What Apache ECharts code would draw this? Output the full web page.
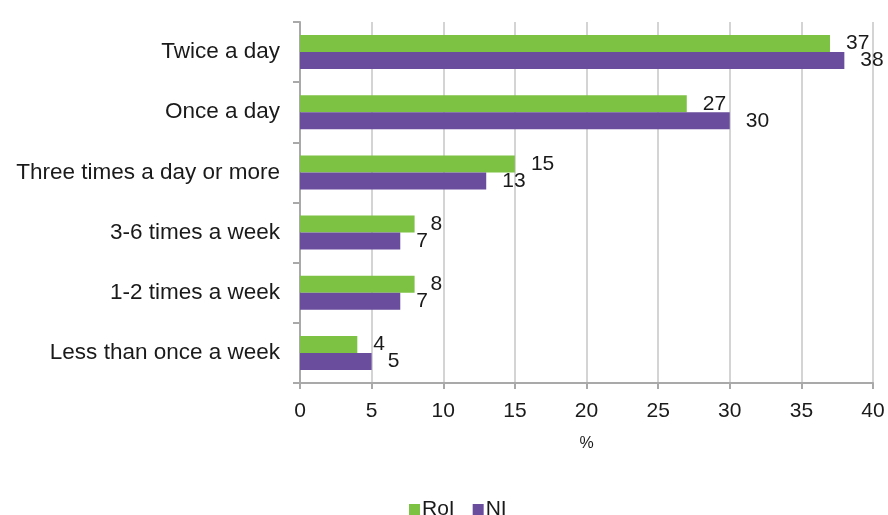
<!DOCTYPE html>
<html>
<head>
<meta charset="utf-8">
<script src="https://cdn.jsdelivr.net/npm/echarts@6/dist/echarts.min.js"></script>
<style>
  html, body { margin: 0; padding: 0; background: #fff; }
  #chart { width: 888px; height: 515px; }
</style>
</head>
<body>
<div id="chart"></div>
<script>
// Tooth-brushing frequency, % of respondents
const categories = [
  'Twice a day',
  'Once a day',
  'Three times a day or more',
  '3-6 times a week',
  '1-2 times a week',
  'Less than once a week'
];
const rolValues = [37, 27, 15, 8, 8, 4];
const niValues = [38, 30, 13, 7, 7, 5];
const seriesNames = ['RoI', 'NI'];
const xTicks = { min: 0, max: 40, interval: 5 };
const xAxisTitle = '%';

const FONT = '"Liberation Sans", Arial, sans-serif';
const TEXT = '#1a1a1a';

const labelStyle = {
  show: true,
  position: 'right',
  distance: 16,
  fontFamily: FONT,
  fontSize: 21,
  color: TEXT
};

const chart = echarts.init(document.getElementById('chart'), null, { renderer: 'canvas' });
chart.setOption({
  animation: false,
  backgroundColor: '#ffffff',
  grid: { left: 300, right: 15, top: 22, bottom: 132, containLabel: false },
  legend: {
    data: seriesNames,
    left: 404,
    top: 494,
    icon: 'rect',
    itemWidth: 11,
    itemHeight: 11,
    itemGap: 18,
    textStyle: { fontFamily: FONT, fontSize: 21, color: TEXT, padding: [0, 0, 0, -3] }
  },
  xAxis: {
    type: 'value',
    min: xTicks.min,
    max: xTicks.max,
    interval: xTicks.interval,
    name: xAxisTitle,
    nameLocation: 'middle',
    nameGap: 53,
    nameTextStyle: { fontFamily: FONT, fontSize: 16, color: TEXT },
    axisLine: { show: true, lineStyle: { color: '#a9a9a9', width: 2 } },
    axisTick: { show: true, length: 6, lineStyle: { color: '#a9a9a9', width: 2 } },
    axisLabel: { margin: 18, fontFamily: FONT, fontSize: 21, color: TEXT },
    splitLine: { show: true, lineStyle: { color: '#d4d4d4', width: 2 } }
  },
  yAxis: {
    type: 'category',
    data: categories,
    inverse: true,
    axisLine: { show: true, lineStyle: { color: '#a9a9a9', width: 2 } },
    axisTick: { show: true, length: 7, lineStyle: { color: '#a9a9a9', width: 2 } },
    axisLabel: {
      margin: 20,
      fontFamily: FONT,
      fontSize: 22.5,
      color: TEXT,
      padding: [0, 0, 13, 0]
    },
    splitLine: { show: false }
  },
  series: [
    {
      name: seriesNames[0],
      type: 'bar',
      data: rolValues,
      barWidth: 17,
      barGap: '0%',
      itemStyle: { color: '#7dc242' },
      label: labelStyle
    },
    {
      name: seriesNames[1],
      type: 'bar',
      data: niValues,
      barWidth: 17,
      barGap: '0%',
      itemStyle: { color: '#6a4d9d' },
      label: labelStyle
    }
  ]
});
</script>
</body>
</html>
